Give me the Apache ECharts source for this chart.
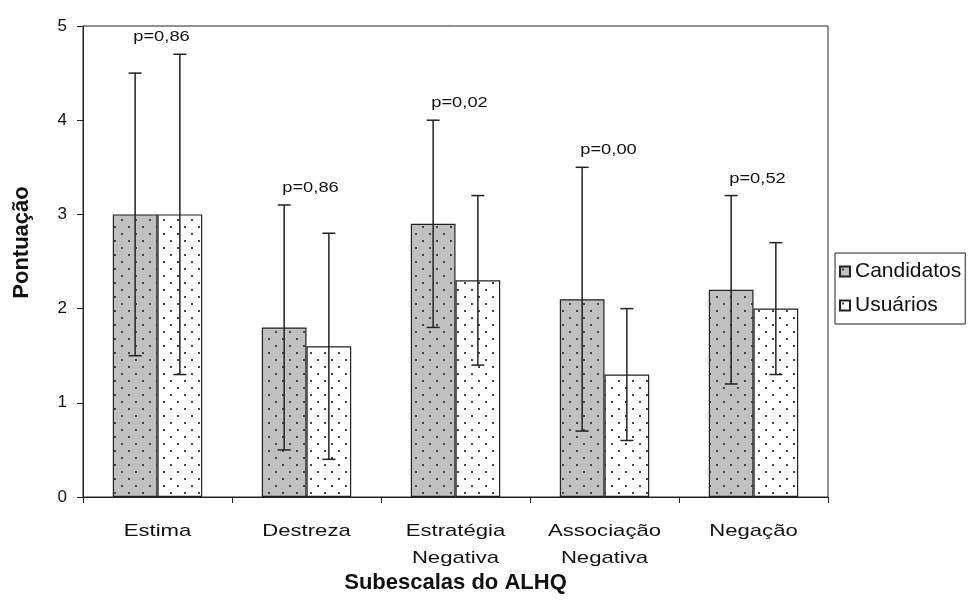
<!DOCTYPE html>
<html><head><meta charset="utf-8">
<script src="https://cdn.jsdelivr.net/npm/echarts@6/dist/echarts.min.js"></script>
<style>html,body{margin:0;padding:0;background:#fff}#c{width:970px;height:615px}</style>
</head><body><div id="c"></div>
<script>
const categories = ['Estima','Destreza','Estratégia\nNegativa','Associação\nNegativa','Negação'];
const candidatos = [3.0, 1.8, 2.9, 2.1, 2.2];
const candLow  = [1.5, 0.5, 1.8, 0.7, 1.2];
const candHigh = [4.5, 3.1, 4.0, 3.5, 3.2];
const usuarios = [3.0, 1.6, 2.3, 1.3, 2.0];
const usuLow  = [1.3, 0.4, 1.4, 0.6, 1.3];
const usuHigh = [4.7, 2.8, 3.2, 2.0, 2.7];
const pValues = ['p=0,86','p=0,86','p=0,02','p=0,00','p=0,52'];
const yTicks = [0,1,2,3,4,5];

const FONT = 'Liberation Sans, Arial, sans-serif';
function makePattern(bg){
  const c = document.createElement('canvas');
  c.width = 14; c.height = 14;
  const g = c.getContext('2d');
  g.fillStyle = bg; g.fillRect(0,0,14,14);
  g.fillStyle = '#444';
  g.fillRect(2,2,2,2);
  g.fillRect(9,9,2,2);
  return c;
}
const grayPat = {image: makePattern('#c0c0c0'), repeat: 'repeat'};
const whitePat = {image: makePattern('#ffffff'), repeat: 'repeat'};
const GAP = 0.40;

function errItem(lows, highs, side){
  return function(params, api){
    const i = api.value(0);
    const band = api.size([1,0])[0];
    const off = band*(1-GAP)/4*side;
    const lo = api.coord([i, lows[i]]);
    const hi = api.coord([i, highs[i]]);
    const x = lo[0]+off;
    const cw = 6.5;
    const st = {stroke:'#222', lineWidth:1.5};
    return {type:'group', children:[
      {type:'line', shape:{x1:x,y1:lo[1],x2:x,y2:hi[1]}, style:st},
      {type:'line', shape:{x1:x-cw,y1:lo[1],x2:x+cw,y2:lo[1]}, style:st},
      {type:'line', shape:{x1:x-cw,y1:hi[1],x2:x+cw,y2:hi[1]}, style:st}
    ]};
  };
}

const chart = echarts.init(document.getElementById('c'), null, {renderer:'canvas'});
chart.setOption({
  animation:false,
  textStyle:{fontFamily:FONT, color:'#111'},
  grid:{left:83, right:142, top:26, bottom:118, show:true, borderColor:'#222', borderWidth:1},
  legend:{
    orient:'vertical', left:835, top:253, padding:[8,4,8,4],
    icon:'rect', itemWidth:10, itemHeight:10, itemGap:13,
    borderColor:'#222', borderWidth:1,
    textStyle:{fontSize:21, color:'#111', fontFamily:FONT, padding:[0,0,0,0]},
    data:['Candidatos','Usuários']
  },
  xAxis:{
    type:'category', data:categories,
    name:'Subescalas do ALHQ', nameLocation:'middle', nameGap:75,
    nameTextStyle:{fontSize:22, fontWeight:'bold', color:'#111'},
    axisLine:{lineStyle:{color:'#222', width:1}},
    axisTick:{show:true, length:6, lineStyle:{color:'#222'}},
    axisLabel:{show:false}
  },
  yAxis:{
    type:'value', min:0, max:5, interval:1,
    name:'Pontuação', nameLocation:'middle', nameGap:50, nameRotate:90,
    nameTextStyle:{fontSize:22, fontWeight:'bold', color:'#111', padding:[0,0,0,38]},
    axisLine:{show:true, lineStyle:{color:'#222', width:1}},
    axisTick:{show:true, length:6, lineStyle:{color:'#222'}},
    axisLabel:{fontSize:17, color:'#111', margin:16},
    splitLine:{show:false}
  },
  series:[
    {name:'Candidatos', type:'bar', data:candidatos, barGap:'0%', barCategoryGap:(GAP*100)+'%',
     itemStyle:{color:grayPat, borderColor:'#222', borderWidth:1.2}},
    {name:'Usuários', type:'bar', data:usuarios, barGap:'0%', barCategoryGap:(GAP*100)+'%',
     itemStyle:{color:whitePat, borderColor:'#222', borderWidth:1.2}},
    {type:'custom', data:categories.map((c,i)=>[i]), renderItem:errItem(candLow,candHigh,-1), z:5, silent:true},
    {type:'custom', data:categories.map((c,i)=>[i]), renderItem:errItem(usuLow,usuHigh,1), z:5, silent:true},
    {type:'custom', data:categories.map((c,i)=>[i]), z:6, silent:true,
     renderItem:function(params, api){
       const i = api.value(0);
       const top = Math.max(candHigh[i], usuHigh[i]);
       const p = api.coord([i, top]);
       return {type:'text', x:p[0]+4, y:p[1]-17, scaleX:1.22,
         style:{text:pValues[i], fontSize:15, fill:'#111', align:'center', verticalAlign:'middle',
                fontFamily:FONT}};
     }},
    {type:'custom', data:categories.map((c,i)=>[i]), z:6, silent:true, clip:false,
     renderItem:function(params, api){
       const i = api.value(0);
       const p = api.coord([i, 0]);
       const lines = categories[i].split('\n');
       return {type:'group', children: lines.map((t,k)=>({
         type:'text', x:p[0], y:p[1]+34+k*27, scaleX:1.3,
         style:{text:t, fontSize:17, fill:'#111', align:'center', verticalAlign:'middle', fontFamily:FONT}
       }))};
     }}
  ]
});
</script></body></html>
